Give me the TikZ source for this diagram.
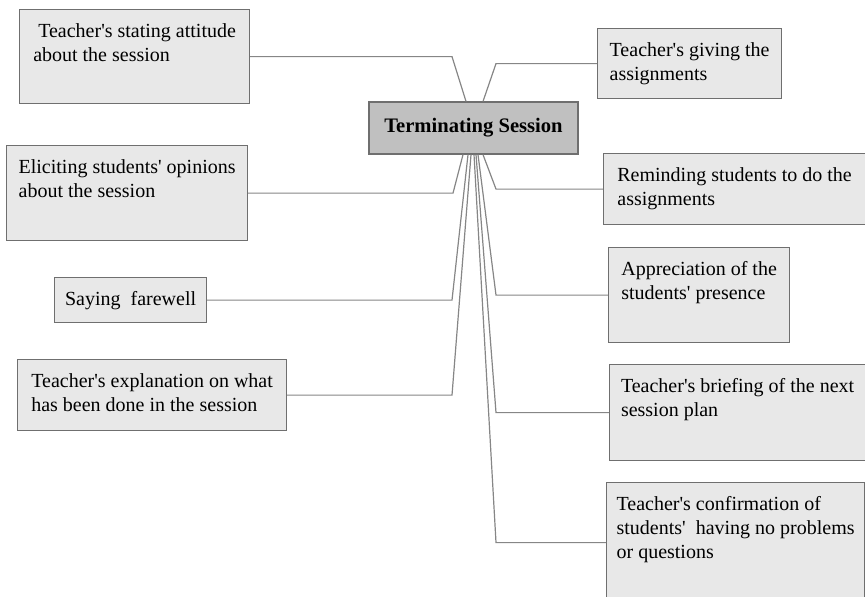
\documentclass[tikz,border=0pt]{standalone}
\usepackage{fontspec}
\setmainfont{Liberation Serif}[Ligatures=TeXOff]
\usepackage{tikz}
\usetikzlibrary{positioning}
\definecolor{boxfill}{HTML}{E8E8E8}
\definecolor{hubfill}{HTML}{C0C0C0}
\definecolor{boxline}{HTML}{6F6F6F}
\definecolor{wire}{HTML}{868686}

\begin{document}
\begin{tikzpicture}[x=0.5pt,y=-0.5pt,
  leaf/.style={draw=boxline, fill=boxfill, line width=0.6pt, anchor=north west,
    align=left, inner xsep=2pt, inner ysep=7pt, text height=19pt,
    font=\fontsize{10}{12}\selectfont},
  hub/.style={draw=boxline, fill=hubfill, line width=0.6pt,
    font=\fontsize{10.3}{12}\selectfont\bfseries},
  link/.style={draw=wire, line width=0.6pt}]
\useasboundingbox (0,0) rectangle (865,596);

\node[hub, minimum width=104.5pt, minimum height=26pt] (hub) at (473.5,128) {Terminating Session};

% left side
\node[leaf, minimum width=115pt, minimum height=47pt, text depth=14pt] (attitude) at (19,9) {\ Teacher's stating attitude\\about the session};
\node[leaf, minimum width=120.5pt, minimum height=47.5pt, text depth=14.5pt] (opinion) at (6,145) {Eliciting students' opinions\\about the session};
\node[leaf, minimum width=76pt, minimum height=22.5pt, text height=7pt, text depth=1.5pt] (farewell) at (54,277) {Saying\ \ farewell};
\node[leaf, minimum width=134.5pt, minimum height=35.5pt, text depth=2.5pt] (explain) at (17,359) {Teacher's explanation on what\\has been done in the session};

% right side
\node[leaf, minimum width=92pt, minimum height=35pt, text depth=2pt] (assign) at (597,28) {Teacher's giving the\\assignments};
\node[leaf, minimum width=131pt, minimum height=35.5pt, text depth=2.5pt] (remind) at (603,153) {Reminding students to do the\\assignments};
\node[leaf, minimum width=90.5pt, minimum height=47.5pt, text depth=14.5pt] (presence) at (608,247) {Appreciation of the\\students' presence};
\node[leaf, minimum width=128pt, minimum height=48pt, text depth=15pt] (briefing) at (609,364) {Teacher's briefing of the next\\session plan};
\node[leaf, minimum width=129pt, minimum height=60pt, text height=31pt, text depth=15pt] (confirm) at (606,482) {Teacher's confirmation of\\students'\ \ having no problems\\or questions};

% connectors
\draw[link] (attitude.east) -- (452,0 |- attitude.east) -- (466,0 |- hub.north);
\draw[link] (assign.west) -- (496,0 |- assign.west) -- (483,0 |- hub.north);
\draw[link] (opinion.east) -- (453,0 |- opinion.east) -- (463,0 |- hub.south);
\draw[link] (farewell.east) -- (452,0 |- farewell.east) -- (468,0 |- hub.south);
\draw[link] (explain.east) -- (452,0 |- explain.east) -- (471,0 |- hub.south);
\draw[link] (remind.west) -- (496,0 |- remind.west) -- (483,0 |- hub.south);
\draw[link] (presence.west) -- (496,0 |- presence.west) -- (478,0 |- hub.south);
\draw[link] (briefing.west) -- (496,0 |- briefing.west) -- (476,0 |- hub.south);
\draw[link] (confirm.west) -- (496,0 |- confirm.west) -- (474,0 |- hub.south);
\end{tikzpicture}
\end{document}
